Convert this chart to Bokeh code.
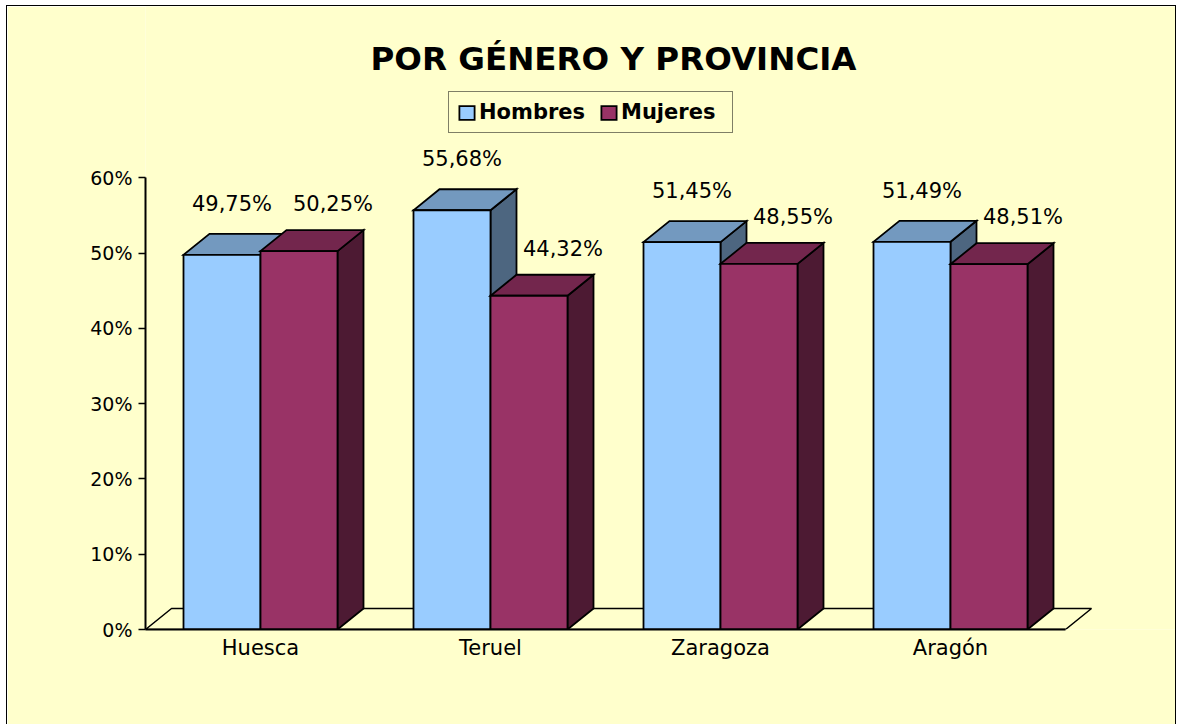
from bokeh.plotting import figure
from bokeh.models import Range1d, FixedTicker, Label, Legend, LegendItem
from bokeh.embed import file_html
from bokeh.resources import INLINE
from bokeh.core.properties import value

# ---------------- data ----------------
categories = ["Huesca", "Teruel", "Zaragoza", "Aragón"]
series_names = ["Hombres", "Mujeres"]
hombres = [49.75, 55.68, 51.45, 51.49]
mujeres = [50.25, 44.32, 48.55, 48.51]
y_ticks = [0, 10, 20, 30, 40, 50, 60]
y_tick_labels = ["0%", "10%", "20%", "30%", "40%", "50%", "60%"]
title_text = "POR GÉNERO Y PROVINCIA"

# ---------------- style ----------------
FRONT = ["#99CCFF", "#993366"]
TOP = ["#7399BF", "#73264D"]
SIDE = ["#4D6680", "#4D1A33"]
LABEL_DX_PX = [10, 34]     # data-label offset per series (pixels)
LABEL_DY_PX = [51, 47]
BG = "#FFFFCC"
FONT = "DejaVu Sans"

OFF_X, OFF_Y = 7, 6          # chart box position on the page
W, H = 1168, 718
FRAME_LEFT_PAGE, FRAME_BOTTOM_PAGE = 145, 629
ML = FRAME_LEFT_PAGE - OFF_X
MB = H - (FRAME_BOTTOM_PAGE - OFF_Y)
FW, FH = W - ML, H - MB
CAT_PX = 230.0      # pixels per category
PCT_PX = 7.53       # pixels per percent
BAR_W = 77 / CAT_PX
DX = 26 / CAT_PX
DY = 21 / PCT_PX

# page-pixel helpers for annotation placement
def px2x(px):
    return (px - FRAME_LEFT_PAGE) / CAT_PX

def py2y(py):
    return (FRAME_BOTTOM_PAGE - py) / PCT_PX

p = figure(width=W, height=H, output_backend="svg", toolbar_location=None,
           x_range=Range1d(0, FW / CAT_PX), y_range=Range1d(0, FH / PCT_PX),
           min_border_left=ML, min_border_bottom=MB, min_border_top=0, min_border_right=0)
p.background_fill_color = BG
p.border_fill_color = BG
p.outline_line_color = None
p.grid.visible = False
p.styles = {"outline": "1.5px solid #000", "margin-left": f"{OFF_X}px", "margin-top": f"{OFF_Y}px"}

n = len(categories)

# floor
p.patch([0, n, n + DX, DX], [0, 0, DY, DY], fill_color=BG, line_color="black", line_width=1.5)

series_vals = [hombres, mujeres]
front_renderers = []
label_x, label_y, label_text = [], [], []
for s, vals in enumerate(series_vals):
    xs, ys, cols = [], [], []
    lefts, rights, tops = [], [], []
    for i, v in enumerate(vals):
        l = i + 0.5 - BAR_W + s * BAR_W
        r = l + BAR_W
        # side face
        xs.append([r, r + DX, r + DX, r])
        ys.append([0, DY, v + DY, v])
        cols.append(SIDE[s])
        # top face
        xs.append([l, r, r + DX, l + DX])
        ys.append([v, v, v + DY, v + DY])
        cols.append(TOP[s])
        lefts.append(l)
        rights.append(r)
        tops.append(v)
        label_x.append((l + r) / 2 + LABEL_DX_PX[s] / CAT_PX)
        label_y.append(v + LABEL_DY_PX[s] / PCT_PX)
        label_text.append(f"{v:.2f}".replace(".", ",") + "%")
    p.patches(xs, ys, fill_color=cols, line_color="black", line_width=1.8, line_join="miter")
    fr = p.quad(left=lefts, right=rights, bottom=[0] * len(vals), top=tops,
                fill_color=FRONT[s], line_color="black", line_width=1.8, line_join="miter")
    front_renderers.append(fr)

p.text(x=label_x, y=label_y, text=label_text, text_font=value(FONT),
       text_font_size=value("21px"), text_align="center", text_baseline="middle",
       text_color="black")

# axes
yax = p.yaxis[0]
yax.ticker = FixedTicker(ticks=y_ticks)
yax.major_label_overrides = dict(zip(y_ticks, y_tick_labels))
yax.bounds = (0, 60)
yax.axis_line_width = 2
yax.axis_line_color = "black"
yax.major_tick_out = 7
yax.major_tick_in = 0
yax.minor_tick_out = 0
yax.minor_tick_in = 0
yax.major_tick_line_width = 1.5
yax.major_tick_line_color = "black"
yax.major_label_text_font = FONT
yax.major_label_text_font_size = "19px"
yax.major_label_text_color = "black"
yax.major_label_standoff = 6

xax = p.xaxis[0]
xt = [i + 0.5 for i in range(n)]
xax.ticker = FixedTicker(ticks=xt)
xax.major_label_overrides = dict(zip(xt, categories))
xax.bounds = (0, n)
xax.axis_line_width = 2
xax.axis_line_color = "black"
xax.major_tick_out = 0
xax.major_tick_in = 0
xax.minor_tick_out = 0
xax.minor_tick_in = 0
xax.major_label_text_font = FONT
xax.major_label_text_font_size = "21px"
xax.major_label_text_color = "black"
xax.major_label_standoff = 6

# title
p.add_layout(Label(x=px2x(613), y=py2y(58), text=title_text, text_font=FONT,
                   text_font_size="32.5px", text_font_style="bold",
                   text_align="center", text_baseline="middle", text_color="black"))

# legend
legend = Legend(items=[LegendItem(label=series_names[0], renderers=[front_renderers[0]]),
                       LegendItem(label=series_names[1], renderers=[front_renderers[1]])],
                location=(448 - FRAME_LEFT_PAGE, FRAME_BOTTOM_PAGE - 133), orientation="horizontal",
                border_line_color="black", border_line_width=1.5,
                background_fill_color=BG, background_fill_alpha=1.0,
                label_text_font=FONT, label_text_font_style="bold",
                label_text_font_size="21px", label_text_color="black",
                glyph_width=19, glyph_height=17, label_standoff=3,
                spacing=14, padding=8, margin=0, label_width=103)
p.add_layout(legend)

open("out.html", "w").write(file_html(p, INLINE))
